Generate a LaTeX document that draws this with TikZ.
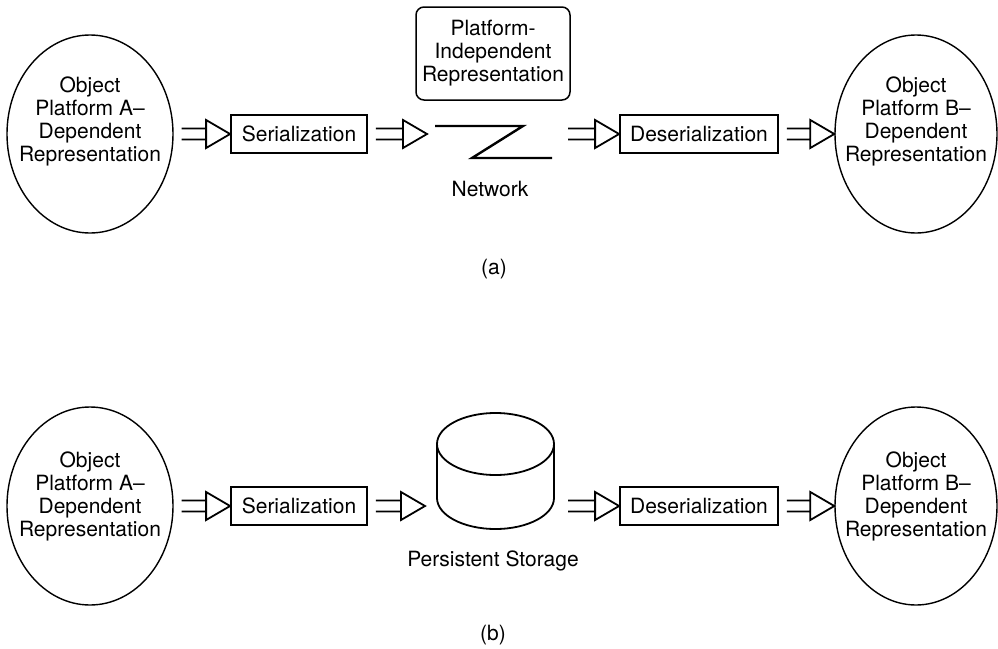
\documentclass[tikz,border=0pt]{standalone}
\usepackage{fontspec}
\setmainfont{TeX Gyre Heros}
\usetikzlibrary{calc,shapes.geometric,positioning}

\tikzset{
  obj/.style={draw, ellipse, line width=1.4pt, minimum width=166pt, minimum height=198pt, inner sep=0pt},
  objtext/.style={align=center, font=\fontsize{21}{23}\selectfont},
  stepbox/.style={draw, rectangle, line width=1.8pt, minimum height=38pt, font=\fontsize{21}{23}\selectfont},
  fat/.style={line width=1.8pt, line join=miter, to path={
    let \p1=(\tikztostart), \p2=(\tikztotarget) in
    (\x1+8pt,\y1+5.5pt) -- (\x2-24pt,\y1+5.5pt)
    (\x1+8pt,\y1-5.5pt) -- (\x2-24pt,\y1-5.5pt)
    (\x2-24pt,\y1+14pt) -- (\x2,\y1) -- (\x2-24pt,\y1-14pt) -- cycle
    (\tikztotarget)}},
  caption/.style={font=\fontsize{21}{23}\selectfont},
}

\begin{document}
\begin{tikzpicture}[x=1pt,y=1pt]
  \useasboundingbox (0,0) rectangle (998,-648);

  % (a) over the network
  \node[obj] (objA1) at (90,-134) {};
  \node[objtext] at ([yshift=13pt]objA1.center) {Object\\Platform A–\\Dependent\\Representation};
  \node[stepbox, minimum width=136pt] (serA) at (299,-134) {Serialization};
  \node[draw, rounded corners=8pt, line width=1.5pt, minimum width=154pt, minimum height=93pt,
        align=center, font=\fontsize{21}{23}\selectfont] (indep) at (493,-53.5)
        {Platform-\\Independent\\Representation};
  \coordinate (netin) at (427,-134);
  \coordinate (netout) at (560,-134);
  \draw[line width=2.4pt] (435,-126) -- (523,-126) -- (472,-158) -- (552,-158);
  \node[caption] (net) at (490,-189) {Network};
  \node[stepbox, minimum width=158pt] (desA) at (699,-134) {Deserialization};
  \node[obj, minimum width=162pt] (objB1) at (916,-134) {};
  \node[objtext] at ([yshift=13pt]objB1.center) {Object\\Platform B–\\Dependent\\Representation};
  \node[caption] (capA) at (494,-269) {(a)};

  \draw[fat] (objA1.east) to (serA.west);
  \draw[fat] (serA.east) to (netin);
  \draw[fat] (netout) to (desA.west);
  \draw[fat] (desA.east) to (objB1.west);

  % (b) into storage
  \node[obj] (objA2) at (90,-506) {};
  \node[objtext] at ([yshift=10pt]objA2.center) {Object\\Platform A–\\Dependent\\Representation};
  \node[stepbox, minimum width=136pt] (serB) at (299,-506) {Serialization};
  \draw[line width=1.8pt] (495.5,-444) ellipse [x radius=58.5, y radius=31];
  \draw[line width=1.8pt] (437,-444) -- (437,-498)
    arc[start angle=180, end angle=360, x radius=58.5, y radius=31] -- (554,-444);
  \coordinate (storein) at (425,-506);
  \coordinate (storeout) at (560,-506);
  \node[caption] (store) at (493,-561) {Persistent Storage};
  \node[stepbox, minimum width=158pt] (desB) at (699,-506) {Deserialization};
  \node[obj, minimum width=162pt] (objB2) at (916,-506) {};
  \node[objtext] at ([yshift=10pt]objB2.center) {Object\\Platform B–\\Dependent\\Representation};
  \node[caption] (capB) at (493,-635) {(b)};

  \draw[fat] (objA2.east) to (serB.west);
  \draw[fat] (serB.east) to (storein);
  \draw[fat] (storeout) to (desB.west);
  \draw[fat] (desB.east) to (objB2.west);
\end{tikzpicture}
\end{document}
